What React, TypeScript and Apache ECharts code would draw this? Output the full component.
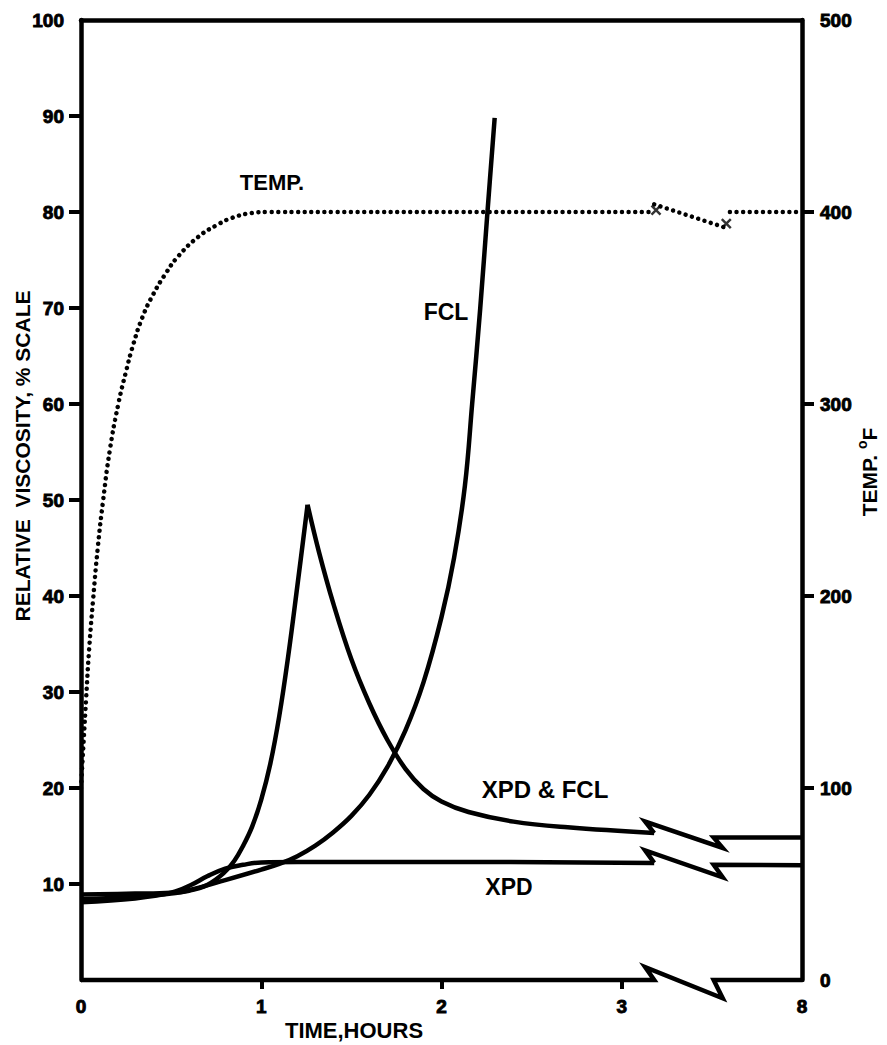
import React, { useEffect, useRef } from 'react';
import * as echarts from 'echarts';

// ---- axes ----
const X_TICK_VALUES = [0, 1, 2, 3, 4];
const X_TICK_LABELS = ['0', '1', '2', '3', '8'];
const LEFT_LABEL_VALUES = [10, 20, 30, 40, 50, 60, 70, 80, 90, 100];
const LEFT_TICK_VALUES = [10, 20, 30, 40, 50, 60, 70, 80, 90];
const RIGHT_LABEL_VALUES = [0, 100, 200, 300, 400, 500];
const RIGHT_TICK_VALUES = [100, 200, 300, 400];

// ---- TEMP (°F, right axis) ----
const TEMP_MAIN = [
  [0, 100], [0.015, 125], [0.028, 146], [0.045, 172], [0.067, 198], [0.093, 225], [0.123, 250],
  [0.16, 276], [0.207, 300], [0.25, 317], [0.29, 331], [0.34, 345], [0.40, 357],
  [0.47, 368], [0.54, 377], [0.65, 387], [0.75, 393], [0.84, 397], [0.95, 399.5],
  [1.03, 400], [1.5, 400], [2.0, 400], [2.5, 400], [3.17, 400],
];
const TEMP_BREAK = [[3.18, 404], [3.57, 392]];
const TEMP_AFTER = [[3.6, 400], [4, 400]];
const TEMP_BREAK_MARKS = [[3.19, 401], [3.58, 394]];

// ---- viscosity curves (%, left axis) ----
const FCL = [
  [0, 8.4], [0.3, 8.7], [0.5, 9.0], [0.61, 9.4], [0.8, 10.4], [1.0, 11.5], [1.1, 12.1],
  [1.2, 12.9], [1.3, 14.0], [1.4, 15.4], [1.5, 17.1], [1.6, 19.3], [1.7, 22.2], [1.8, 26.0],
  [1.9, 31.0], [2.0, 37.8], [2.07, 44], [2.13, 51.5], [2.17, 60], [2.215, 70], [2.255, 80],
  [2.295, 89.8],
];
const XPD_FCL_RISE = [
  [0, 8.9], [0.3, 9.0], [0.5, 9.1], [0.6, 9.3], [0.7, 9.9], [0.79, 11.1], [0.85, 12.4],
  [0.9, 14.0], [0.95, 16.0], [1.0, 18.8], [1.05, 22.5], [1.1, 27.5], [1.15, 33.8],
  [1.2, 41.0], [1.257, 49.5],
];
const XPD_FCL_FALL = [
  [1.257, 49.5], [1.32, 44.6], [1.4, 39.2], [1.5, 33.4], [1.6, 28.8], [1.7, 25.0],
  [1.8, 22.0], [1.9, 19.9], [2.0, 18.6], [2.15, 17.5], [2.4, 16.5], [2.7, 15.9], [3.18, 15.3],
];
const XPD_FCL_BREAK = [[3.18, 15.3], [3.13, 16.5], [3.56, 13.75], [3.51, 14.85], [4, 14.85]];
const XPD = [
  [0, 8.1], [0.3, 8.5], [0.5, 9.1], [0.61, 9.9], [0.7, 10.8], [0.8, 11.6], [0.9, 12.0],
  [1.0, 12.25], [1.2, 12.3], [2.0, 12.3], [3.18, 12.2],
];
const XPD_BREAK = [[3.18, 12.2], [3.13, 13.5], [3.56, 10.7], [3.51, 12.0], [4, 11.95]];
const AXIS_BREAK = [[0, 0], [3.18, 0], [3.13, 1.35], [3.56, -1.9], [3.51, 0], [4, 0]];

const FONT = '"Liberation Sans", Arial, Helvetica, sans-serif';

export default function App() {
  const ref = useRef<HTMLDivElement>(null);
  useEffect(() => {
    if (!ref.current) return;
    const chart = echarts.init(ref.current, null, { renderer: 'svg' });
    const solid = { color: '#000', width: 4.5, join: 'miter' as const, miterLimit: 10 };
    const dotted = { color: '#000', width: 4.5, type: [0.01, 6.6], cap: 'round' as const };
    const tickLabel = {
      color: '#000', fontSize: 19, fontWeight: 'bold', fontFamily: FONT,
      textBorderColor: '#000', textBorderWidth: 0.9,
    };
    const curve = (data: number[][], smooth: number | boolean, extra: any = {}) => ({
      type: 'line', data, smooth, showSymbol: false, symbol: 'none', lineStyle: solid,
      yAxisIndex: 0, xAxisIndex: 0, silent: true, ...extra,
    });
    const axisLineStyle = { color: '#000', width: 4.5 };
    const option: any = {
      animation: false,
      backgroundColor: '#fff',
      grid: { left: 81, right: 85, top: 20, bottom: 65, containLabel: false },
      xAxis: [
        {
          type: 'value', min: 0, max: 4, interval: 1, position: 'bottom',
          axisLine: { show: false },
          axisTick: { show: true, inside: false, length: 9, customValues: [1, 2, 3], lineStyle: { color: '#000', width: 4 } },
          axisLabel: {
            ...tickLabel, margin: 17, customValues: X_TICK_VALUES,
            formatter: (v: number) => X_TICK_LABELS[X_TICK_VALUES.indexOf(Math.round(v))] ?? '',
          },
          splitLine: { show: false },
        },
        {
          type: 'value', min: 0, max: 4, position: 'top',
          axisLine: { show: true, onZero: false, lineStyle: axisLineStyle },
          axisTick: { show: false }, axisLabel: { show: false }, splitLine: { show: false },
        },
      ],
      yAxis: [
        {
          type: 'value', min: 0, max: 100, interval: 10, position: 'left',
          axisLine: { show: true, onZero: false, lineStyle: axisLineStyle },
          axisTick: { show: true, inside: false, length: 12, customValues: LEFT_TICK_VALUES, lineStyle: { color: '#000', width: 4 } },
          axisLabel: { ...tickLabel, margin: 17, customValues: LEFT_LABEL_VALUES },
          splitLine: { show: false },
        },
        {
          type: 'value', min: 0, max: 500, interval: 100, position: 'right',
          axisLine: { show: true, onZero: false, lineStyle: axisLineStyle },
          axisTick: { show: true, inside: false, length: 12, customValues: RIGHT_TICK_VALUES, lineStyle: { color: '#000', width: 4 } },
          axisLabel: { ...tickLabel, margin: 18, customValues: RIGHT_LABEL_VALUES },
          splitLine: { show: false },
        },
      ],
      series: [
        curve(AXIS_BREAK, false, { clip: false }),
        curve(XPD, 0.4),
        curve(XPD_BREAK, false, { clip: false }),
        curve(FCL, 0.4),
        curve(XPD_FCL_RISE, 0.4),
        curve(XPD_FCL_FALL, 0.4),
        curve(XPD_FCL_BREAK, false, { clip: false }),
        { type: 'line', yAxisIndex: 1, data: TEMP_MAIN, smooth: 0.5, symbol: 'none', silent: true, lineStyle: dotted },
        { type: 'line', yAxisIndex: 1, data: TEMP_BREAK, symbol: 'none', silent: true, lineStyle: dotted },
        { type: 'line', yAxisIndex: 1, data: TEMP_AFTER, symbol: 'none', silent: true, lineStyle: dotted },
        {
          type: 'scatter', yAxisIndex: 1, data: TEMP_BREAK_MARKS, silent: true,
          symbol: 'path://M0,0L10,10M10,0L0,10', symbolSize: 9,
          itemStyle: { color: 'none', borderColor: '#000', borderWidth: 2.5 },
        },
      ],
      graphic: [
        { type: 'text', x: 272, y: 182, style: { text: 'TEMP.', font: `bold 22px ${FONT}`, fill: '#000', align: 'center', verticalAlign: 'middle' } },
        { type: 'text', x: 446, y: 312, style: { text: 'FCL', font: `bold 23px ${FONT}`, fill: '#000', align: 'center', verticalAlign: 'middle' } },
        { type: 'text', x: 545, y: 789, style: { text: 'XPD & FCL', font: `bold 24px ${FONT}`, fill: '#000', align: 'center', verticalAlign: 'middle' } },
        { type: 'text', x: 509, y: 887, style: { text: 'XPD', font: `bold 23px ${FONT}`, fill: '#000', align: 'center', verticalAlign: 'middle' } },
        { type: 'text', x: 354, y: 1030, style: { text: 'TIME,HOURS', font: `bold 22px ${FONT}`, fill: '#000', align: 'center', verticalAlign: 'middle' } },
        { type: 'text', x: 22, y: 456, rotation: Math.PI / 2, style: { text: 'RELATIVE  VISCOSITY, % SCALE', font: `bold 21px ${FONT}`, fill: '#000', align: 'center', verticalAlign: 'middle' } },
        {
          type: 'text', x: 869, y: 472, rotation: Math.PI / 2,
          style: {
            text: '{a|TEMP. }{s|o}{a|F}', fill: '#000', align: 'center', verticalAlign: 'middle',
            rich: {
              a: { fontSize: 21, fontWeight: 'bold', fontFamily: FONT, fill: '#000' },
              s: { fontSize: 14, fontWeight: 'bold', fontFamily: FONT, fill: '#000', padding: [0, 0, 14, 0] },
            },
          },
        },
      ],
    };
    chart.setOption(option);
    return () => chart.dispose();
  }, []);
  return (
    <div
      ref={ref}
      style={{ position: 'absolute', left: 0, top: 0, width: 887, height: 1045, background: '#fff' }}
    />
  );
}
